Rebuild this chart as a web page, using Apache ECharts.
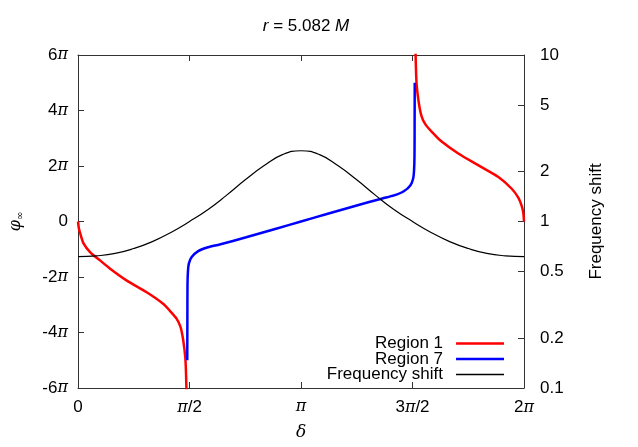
<!DOCTYPE html>
<html><head><meta charset="utf-8">
<script src="https://cdn.jsdelivr.net/npm/echarts@6/dist/echarts.min.js"></script>
<style>html,body{margin:0;padding:0;background:#fff}#c{width:638px;height:447px}</style>
</head><body><div id="c"></div>
<script>
// x values are delta/pi, left-axis values are phi/pi
const deltaTicks = [0, 0.5, 1, 1.5, 2];
const deltaTickLabels = ['0', 'π/2', 'π', '3π/2', '2π'];
const phiTicks = [-6, -4, -2, 0, 2, 4, 6];
const freqTicks = [0.1, 0.2, 0.5, 1, 2, 5, 10];

const region1Left = [
  [0, 0], [0.004, -0.25], [0.0103, -0.44], [0.0254, -0.80], [0.055, -1.11], [0.10, -1.41],
  [0.144, -1.70], [0.219, -2.13], [0.308, -2.55], [0.383, -2.97], [0.411, -3.21],
  [0.442, -3.50], [0.460, -3.81], [0.472, -4.29], [0.481, -4.89], [0.484, -5.37], [0.487, -6.3]
];
const region1Right = [
  [1.513, 6.3], [1.516, 5.37], [1.519, 4.89], [1.528, 4.29], [1.540, 3.81], [1.558, 3.50],
  [1.589, 3.21], [1.625, 2.92], [1.707, 2.44], [1.796, 2.02], [1.885, 1.60], [1.945, 1.18],
  [1.975, 0.85], [1.99, 0.55], [1.997, 0.30], [2.0, 0]
];
const region7 = [
  [0.490, -5.0], [0.4905, -3.5], [0.491, -2.3], [0.493, -1.8], [0.497, -1.52], [0.509, -1.29],
  [0.539, -1.07], [0.583, -0.93], [0.635, -0.83], [0.754, -0.57], [0.888, -0.26], [1.0, 0],
  [1.112, 0.26], [1.246, 0.57], [1.365, 0.83], [1.417, 0.94], [1.461, 1.09], [1.491, 1.31],
  [1.503, 1.55], [1.507, 1.85], [1.509, 2.4], [1.5095, 3.5], [1.510, 5.0]
];
const freqDelta = [0, 1/12, 2/12, 3/12, 4/12, 5/12, 6/12, 7/12, 8/12, 9/12, 10/12, 11/12, 1,
  13/12, 14/12, 15/12, 16/12, 17/12, 18/12, 19/12, 20/12, 21/12, 22/12, 23/12, 2];
const freqShift = [0.615, 0.622, 0.643, 0.688, 0.757, 0.86, 1.0, 1.18, 1.44, 1.78, 2.16, 2.52, 2.66,
  2.52, 2.16, 1.78, 1.44, 1.18, 1.0, 0.86, 0.757, 0.688, 0.643, 0.622, 0.615];

const FS = 17;
const piRich = {
  a: { fontFamily: 'Liberation Sans', fontSize: FS, color: '#000' },
  p: { fontFamily: 'DejaVu Serif', fontStyle: 'italic', fontSize: FS - 1, color: '#000' }
};
function piLabel(s) {
  if (s === '0') return '{a|0}';
  return s.split('π').map(t => t ? '{a|' + t + '}' : '').join('{p|π}');
}
// legend icons: a bar of given thickness centred in a 48x12 box
const thickIcon = 'path://M0,0h0.01v0.01h-0.01Z M0,4.75H48V7.25H0Z M0,12h0.01v0.01h-0.01Z';
const thinIcon = 'path://M0,0h0.01v0.01h-0.01Z M0,5.3H48V6.7H0Z M0,12h0.01v0.01h-0.01Z';

const chart = echarts.init(document.getElementById('c'), null, { renderer: 'canvas' });
const axisLineStyle = { color: '#333', width: 1 };
chart.setOption({
  animation: false,
  backgroundColor: '#fff',
  title: {
    text: '{i|r} = 5.082 {i|M}',
    left: 301, top: 13, textAlign: 'center',
    textStyle: {
      fontFamily: 'Liberation Sans', fontSize: FS, fontWeight: 'normal', color: '#000',
      rich: { i: { fontFamily: 'Liberation Sans', fontStyle: 'italic', fontSize: FS, color: '#000' } }
    }
  },
  grid: { left: 76, right: 114, top: 55, bottom: 59, containLabel: false },
  legend: {
    data: [
      { name: 'Region 1', icon: thickIcon },
      { name: 'Region 7', icon: thickIcon },
      { name: 'Frequency shift', icon: thinIcon }
    ],
    orient: 'vertical', align: 'right', right: 129, top: 330,
    itemWidth: 48, itemHeight: 12, itemGap: -1.5,
    textStyle: { fontFamily: 'Liberation Sans', fontSize: FS, color: '#000', padding: [0, 8, 0, 0] }
  },
  xAxis: [{
    type: 'value', min: 0, max: 2, interval: 0.5,
    name: 'δ', nameLocation: 'middle', nameGap: 36,
    nameTextStyle: { fontFamily: 'DejaVu Serif', fontStyle: 'italic', fontSize: FS, color: '#000' },
    axisLine: { show: true, onZero: false, lineStyle: axisLineStyle },
    axisTick: { show: true, inside: true, length: 6, lineStyle: axisLineStyle },
    axisLabel: {
      margin: 11,
      formatter: v => piLabel(deltaTickLabels[deltaTicks.indexOf(+v.toFixed(2))] || ''),
      rich: piRich
    },
    splitLine: { show: false }
  }, {
    type: 'value', position: 'top', min: 0, max: 2, interval: 0.5,
    axisLine: { show: true, onZero: false, lineStyle: axisLineStyle },
    axisTick: { show: true, inside: true, length: 6, lineStyle: axisLineStyle },
    axisLabel: { show: false }, splitLine: { show: false }
  }],
  yAxis: [{
    type: 'value', min: -6, max: 6, interval: 2, position: 'left',
    name: '{p|φ}{s|∞}', nameLocation: 'middle', nameGap: 53, nameRotate: 90,
    nameTextStyle: {
      rich: {
        p: { fontFamily: 'DejaVu Serif', fontStyle: 'italic', fontSize: 16, color: '#000' },
        s: { fontFamily: 'DejaVu Sans', fontSize: 10, color: '#000', padding: [8, 0, 0, 0] }
      }
    },
    axisLine: { show: true, onZero: false, lineStyle: axisLineStyle },
    axisTick: { show: true, inside: true, length: 6, lineStyle: axisLineStyle },
    axisLabel: {
      margin: 10,
      formatter: v => v === 0 ? '{a|0}' : '{a|' + v + '}{p|π}',
      rich: piRich
    },
    splitLine: { show: false }
  }, {
    type: 'log', logBase: 10, min: 0.1, max: 10, position: 'right',
    name: 'Frequency shift', nameLocation: 'middle', nameGap: 64, nameRotate: 90,
    nameTextStyle: { fontFamily: 'Liberation Sans', fontSize: FS, color: '#000' },
    axisLine: { show: true, onZero: false, lineStyle: axisLineStyle },
    axisTick: { show: true, inside: true, length: 6, lineStyle: axisLineStyle, customValues: freqTicks },
    axisLabel: {
      margin: 16, customValues: freqTicks,
      fontFamily: 'Liberation Sans', fontSize: FS, color: '#000',
      formatter: v => String(+(+v).toPrecision(3))
    },
    minorTick: { show: false },
    splitLine: { show: false }
  }],
  series: [{
    name: 'Region 1', type: 'line', xAxisIndex: 0, yAxisIndex: 0, data: region1Left,
    showSymbol: false, symbol: 'none', smooth: 0.25, clip: true,
    lineStyle: { color: '#ff0000', width: 2.5 }, itemStyle: { color: '#ff0000' }
  }, {
    name: 'Region 1', type: 'line', xAxisIndex: 0, yAxisIndex: 0, data: region1Right,
    showSymbol: false, symbol: 'none', smooth: 0.25, clip: true,
    lineStyle: { color: '#ff0000', width: 2.5 }, itemStyle: { color: '#ff0000' }
  }, {
    name: 'Region 7', type: 'line', xAxisIndex: 0, yAxisIndex: 0, data: region7,
    showSymbol: false, symbol: 'none', smooth: 0.25, clip: true,
    lineStyle: { color: '#0000ff', width: 2.5 }, itemStyle: { color: '#0000ff' }
  }, {
    name: 'Frequency shift', type: 'line', xAxisIndex: 0, yAxisIndex: 1,
    data: freqDelta.map((d, i) => [d, freqShift[i]]),
    showSymbol: false, symbol: 'none', smooth: 0.5, clip: true,
    lineStyle: { color: '#000000', width: 1.2 }, itemStyle: { color: '#000000' }
  }]
});
</script></body></html>
